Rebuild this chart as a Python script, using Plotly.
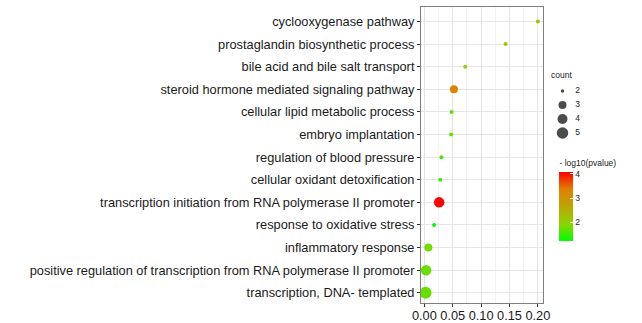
import plotly.graph_objects as go

# ---------------- data ----------------
terms = [
    "cyclooxygenase pathway",
    "prostaglandin biosynthetic process",
    "bile acid and bile salt transport",
    "steroid hormone mediated signaling pathway",
    "cellular lipid metabolic process",
    "embryo implantation",
    "regulation of blood pressure",
    "cellular oxidant detoxification",
    "transcription initiation from RNA polymerase II promoter",
    "response to oxidative stress",
    "inflammatory response",
    "positive regulation of transcription from RNA polymerase II promoter",
    "transcription, DNA- templated",
]
ratio = [0.200, 0.143, 0.072, 0.052, 0.048, 0.047, 0.030, 0.028, 0.026, 0.017, 0.007, 0.003, 0.002]
count = [2, 2, 2, 3, 2, 2, 2, 2, 4, 2, 3, 4, 5]
neglogp = [2.15, 2.1, 1.95, 3.3, 1.65, 1.65, 1.55, 1.55, 4.08, 1.22, 1.8, 1.75, 1.75]

size_legend_values = [2, 3, 4, 5]
x_ticks = [0.00, 0.05, 0.10, 0.15, 0.20]
cbar_ticks = [2, 3, 4]

# ---------------- style ----------------
size_px = {2: 4, 3: 8, 4: 10.5, 5: 12}
legend_px = {2: 3.5, 3: 8, 4: 10, 5: 11.5}
colorscale = [
    [0.0, "#00FF00"],
    [0.25, "#8DD400"],
    [0.5, "#BBA700"],
    [0.75, "#E07F00"],
    [1.0, "#FF0000"],
]
FONT = "Liberation Sans, Arial, sans-serif"
W, H = 642, 323
ML, MR, MT, MB = 421, 0, 7, 20
plot_w = W - ML - MR
plot_h = H - MT - MB
panel_right = 547

def px_x(px):
    return (px - ML) / plot_w

def px_y(py):
    return (H - MB - py) / plot_h

n = len(terms)
ypos = list(range(n - 1, -1, -1))

fig = go.Figure()
fig.add_trace(go.Scatter(
    x=ratio, y=ypos, mode="markers",
    marker=dict(
        size=[size_px[c] for c in count], sizemode="diameter",
        color=neglogp, colorscale=colorscale, cmin=1.22, cmax=4.08,
        line=dict(width=0), opacity=1,
        colorbar=dict(
            title=dict(text="- log10(pvalue)", side="top",
                       font=dict(size=8.5, family=FONT, color="#222")),
            x=px_x(564), xanchor="left", xref="paper",
            y=px_y(241), yanchor="bottom", yref="paper",
            len=84, lenmode="pixels", thickness=14,
            outlinewidth=0, xpad=0, ypad=0,
            tickvals=cbar_ticks, ticks="inside", ticklen=3,
            tickcolor="white", tickwidth=1,
            tickfont=dict(size=8.5, family=FONT, color="#222"),
        ),
    ),
    showlegend=False, hoverinfo="skip",
))

# size legend built from legend values on an auxiliary axis
fig.add_trace(go.Scatter(
    x=[0] * len(size_legend_values), y=size_legend_values, mode="markers",
    marker=dict(size=[legend_px[v] for v in size_legend_values], color="black",
                line=dict(width=0)),
    xaxis="x2", yaxis="y2", showlegend=False, hoverinfo="skip",
))
fig.add_trace(go.Scatter(
    x=[1] * len(size_legend_values), y=size_legend_values, mode="text",
    text=[str(v) for v in size_legend_values], textposition="middle right",
    textfont=dict(size=8.5, family=FONT, color="#222"),
    xaxis="x2", yaxis="y2", showlegend=False, hoverinfo="skip",
))

fig.update_layout(
    width=W, height=H,
    margin=dict(l=ML, r=MR, t=MT, b=MB, pad=0),
    paper_bgcolor="white", plot_bgcolor="white",
    font=dict(family=FONT, size=12.8, color="#1a1a1a"),
    xaxis=dict(
        domain=[0, px_x(panel_right)],
        range=[-0.0060, 0.2090], tickvals=x_ticks,
        ticktext=[f"{v:.2f}" for v in x_ticks],
        showgrid=True, gridcolor="#E5E5E5", gridwidth=1,
        minor=dict(dtick=0.025, tick0=0, showgrid=True, gridcolor="#F2F2F2", gridwidth=0.5),
        zeroline=False, showline=True, linecolor="#7F7F7F", linewidth=1, mirror=True,
        ticks="outside", ticklen=3, tickcolor="#333", tickwidth=1,
        ticklabelstandoff=-2,
        tickfont=dict(size=12.8, family=FONT, color="#1a1a1a"),
    ),
    yaxis=dict(
        range=[-0.45, n - 1 + 0.64], tickvals=ypos, ticktext=terms,
        showgrid=True, gridcolor="#E5E5E5", gridwidth=1,
        zeroline=False, showline=True, linecolor="#7F7F7F", linewidth=1, mirror=True,
        ticks="outside", ticklen=3, tickcolor="#333", tickwidth=1,
        tickfont=dict(size=12.8, family=FONT, color="#1a1a1a"),
    ),
    xaxis2=dict(
        domain=[px_x(556), px_x(596)], range=[-0.85, 2.2], anchor="y2",
        visible=False, fixedrange=True,
    ),
    yaxis2=dict(
        domain=[px_y(140), px_y(84)], range=[5.5, 1.5], anchor="x2",
        visible=False, fixedrange=True,
    ),
    annotations=[dict(
        text="count", x=px_x(553), y=px_y(75), xref="paper", yref="paper",
        xanchor="left", yanchor="middle", showarrow=False,
        font=dict(size=8.5, family=FONT, color="#222"),
    )],
)

fig.write_html("out.html")
